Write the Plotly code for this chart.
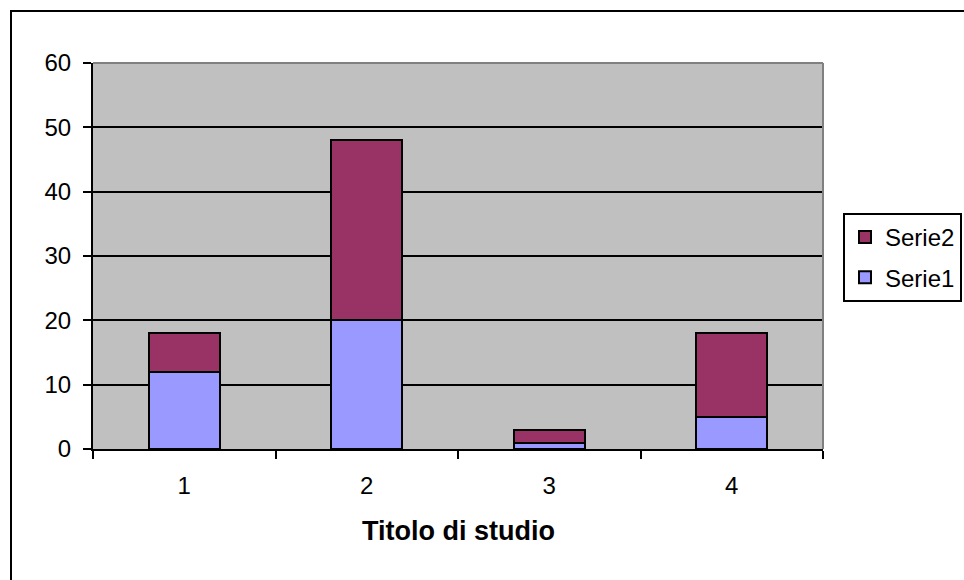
import plotly.graph_objects as go

categories = ["1", "2", "3", "4"]
serie1 = [12, 20, 1, 5]
serie2 = [6, 28, 2, 13]
y_ticks = [0, 10, 20, 30, 40, 50, 60]
x_title = "Titolo di studio"

FONT = "Liberation Sans, Arial, sans-serif"

fig = go.Figure()
fig.add_trace(go.Bar(x=categories, y=serie1, name="Serie1", legendgroup="s1", legendrank=2,
                     marker=dict(color="#9999FF", line=dict(color="black", width=2)),
                     width=0.39))
fig.add_trace(go.Bar(x=categories, y=serie2, name="Serie2", legendgroup="s2", legendrank=1,
                     marker=dict(color="#993366", line=dict(color="black", width=2)),
                     width=0.39))

L, R, T, B = 93, 823, 63, 449
W, H = 964, 580
pw, ph = R - L, B - T

def px(x):
    return (x - L) / pw

def py(y):
    return (B - y) / ph

fig.update_layout(
    width=W, height=H,
    margin=dict(l=L, r=W - R, t=T, b=H - B, pad=0),
    barmode="stack",
    paper_bgcolor="white",
    plot_bgcolor="#C0C0C0",
    font=dict(family=FONT, size=24, color="black"),
    showlegend=True,
    legend=dict(
        xref="container", yref="container",
        x=843 / W, y=1 - 213 / H, xanchor="left", yanchor="top",
        bgcolor="white", bordercolor="black", borderwidth=2,
        traceorder="grouped", tracegroupgap=6,
        font=dict(family=FONT, size=24, color="black"),
    ),
    xaxis=dict(
        type="category",
        showgrid=False,
        showline=True, linecolor="black", linewidth=2,
        ticks="outside", ticklen=8, tickwidth=2, tickcolor="black",
        tickson="boundaries",
        ticklabelstandoff=14,
        tickfont=dict(family=FONT, size=24, color="black"),
        fixedrange=True,
    ),
    yaxis=dict(
        range=[0, 60],
        tickvals=y_ticks,
        showgrid=True, gridcolor="black", gridwidth=2,
        zeroline=False,
        showline=True, linecolor="black", linewidth=2,
        ticks="outside", ticklen=8, tickwidth=2, tickcolor="black",
        ticklabelstandoff=7,
        tickfont=dict(family=FONT, size=24, color="black"),
        fixedrange=True,
    ),
    shapes=[
        # plot-area border (top and right, gray)
        dict(type="line", xref="paper", yref="paper", x0=0, x1=1, y0=1, y1=1,
             line=dict(color="#808080", width=2), layer="above"),
        dict(type="line", xref="paper", yref="paper", x0=1, x1=1, y0=0, y1=1,
             line=dict(color="#808080", width=2), layer="above"),
        # outer chart border
        dict(type="rect", xref="paper", yref="paper",
             x0=px(11), x1=px(W + 40), y0=py(H + 40), y1=py(11),
             line=dict(color="black", width=2), fillcolor="rgba(0,0,0,0)", layer="above"),
    ],
    annotations=[
        dict(text="<b>" + x_title + "</b>", xref="paper", yref="paper",
             x=0.5, y=py(531), xanchor="center", yanchor="middle",
             showarrow=False, font=dict(family=FONT, size=27, color="black")),
    ],
)

fig.write_html("out.html")
